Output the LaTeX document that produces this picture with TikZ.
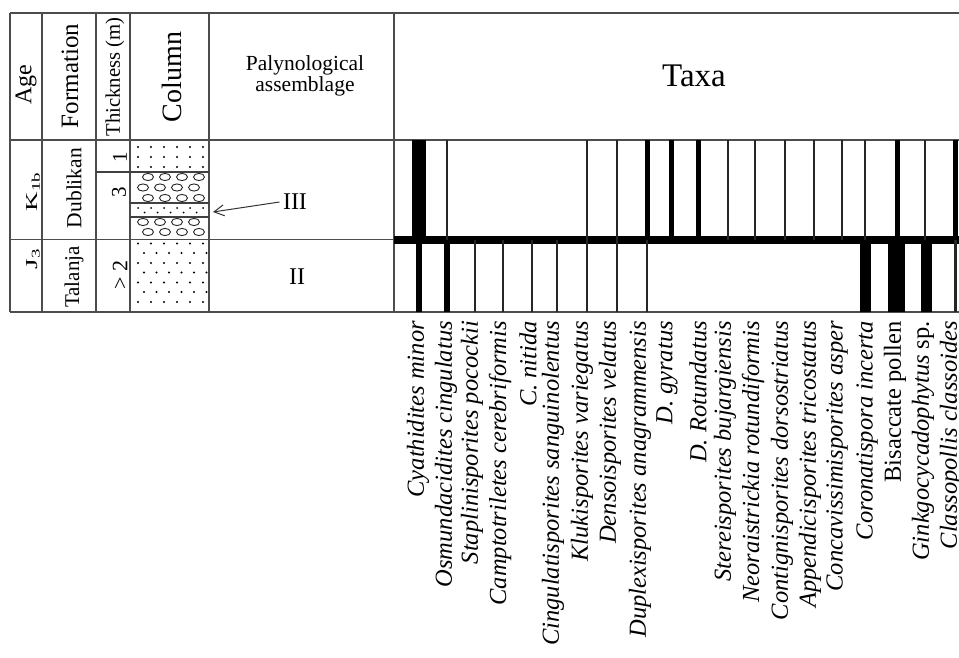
\documentclass[tikz,border=0pt]{standalone}
\usepackage{fontspec}
\setmainfont{Liberation Serif}
\usetikzlibrary{arrows.meta}
\newcommand{\fsz}[1]{\fontsize{#1}{#1}\selectfont}

\tikzset{
  frame line/.style={draw=black!70, line width=1.4pt},
  litho line/.style={draw=black!75, line width=1.1pt},
  side text/.style={rotate=90, inner sep=0pt},
  age text/.style={rotate=90, yscale=0.62, inner sep=0pt, font=\fsz{27}},
  taxon/.style={rotate=90, anchor=east, inner sep=0pt, font=\fsz{24.5}\itshape},
  pebble/.style={draw=black!85, line width=0.9pt},
}

\begin{document}
\begin{tikzpicture}[x=1pt, y=-1pt]
\useasboundingbox (0,0) rectangle (959,658);
% table frame
\draw[frame line] (10,13) -- (959,13);
\draw[frame line] (10,140) -- (959,140);
\draw[frame line] (10,239.5) -- (394,239.5);
\draw[frame line] (10,312) -- (959,312);
\foreach \x in {10,42,96,130,209,394} \draw[frame line] (\x,13) -- (\x,312);
\draw[litho line] (96,172) -- (209,172);
\draw[litho line] (130,203) -- (209,203);
\draw[litho line] (130,217) -- (209,217);

% lithology: sand and conglomerate
\foreach \y in {147,157,167} \foreach \x in {138,151,...,203} \fill (\x,\y) circle[radius=1.1pt];
\foreach \x in {138,151,...,203} \fill (\x,208) circle[radius=1pt];
\foreach \x in {144.5,157.5,...,200} \fill (\x,212.5) circle[radius=1pt];
\foreach \y in {243.5,263,282.5,302} \foreach \x in {138,151,...,203} \fill (\x,\y) circle[radius=1.1pt];
\foreach \y in {253,272.5,292} \foreach \x in {144,156.5,...,207} \fill (\x,\y) circle[radius=1.1pt];
\foreach \y/\xs in {177/148, 187.5/143, 198/148, 222/143, 232/148}
  \foreach \k in {0,...,3} \draw[pebble] (\xs+17*\k,\y) ellipse[x radius=5.5pt, y radius=3.6pt];

% headers
\node[side text, font=\fsz{24}] (age) at (26,85) {Age};
\node[side text, font=\fsz{25}] (formation) at (70,76) {Formation};
\node[side text, font=\fsz{20.7}] (thickness) at (115,77) {Thickness (m)};
\node[side text, font=\fsz{28}] (column) at (172,77) {Column};
\node[align=center, font=\fsz{21.5}] (paly) at (305,76) {Palynological\\assemblage};
\node[font=\fsz{33}] (taxa) at (694,76) {Taxa};

% age, formation, thickness
\node[age text] (kage) at (33,192) {K\textsubscript{1b}};
\node[age text] (jage) at (33,259) {J\textsubscript{3}};
\node[side text, font=\fsz{21.5}] (dublikan) at (74,188) {Dublikan};
\node[side text, font=\fsz{21}] (talanja) at (74,277) {Talanja};
\node[side text, font=\fsz{21}] (thone) at (120,157) {1};
\node[side text, font=\fsz{21}] (ththree) at (119,192) {3};
\node[side text, font=\fsz{22}] (thtwo) at (120,275) {> 2};

% assemblages
\node[font=\fsz{24}] (asmIII) at (295,202) {III};
\node[font=\fsz{24}] (asmII) at (297,277) {II};
\coordinate (bedpt) at (213,212);
\draw[black!80, line width=1pt, -{Straight Barb[length=10pt, width=11pt]}] (asmIII.west) -- (bedpt);

% occurrence bars
\fill (394,236) rectangle (959,244);
\foreach \x/\w in {419/14, 647/5, 671.5/5, 698.5/5, 897/5, 955.5/5}
  \fill (\x-\w/2,140) rectangle (\x+\w/2,240);
\foreach \x/\w in {447/2, 587/2.2, 617/2.5, 728/2, 755/2, 785/2, 814/2, 842/2, 865/2, 925/2.5}
  \fill[black!85] (\x-\w/2,140) rectangle (\x+\w/2,240);
\foreach \x/\w in {419/6, 447/6, 865.5/11, 896.5/17, 926.5/11}
  \fill (\x-\w/2,240) rectangle (\x+\w/2,312);
\foreach \x/\w in {475/2.5, 503/2.5, 532/2.5, 557/2.5, 587/2.5, 617/2.5, 647/2.5, 955.5/2.5}
  \fill[black!85] (\x-\w/2,240) rectangle (\x+\w/2,312);

% taxa names
\foreach \x/\t [count=\i] in {418/Cyathidites minor, 446/Osmundacidites cingulatus,
  472/Staplinisporites pocockii, 500/Camptotriletes cerebriformis, 528/C. nitida,
  553/Cingulatisporites sanguinolentus, 582/Klukisporites variegatus,
  610/Densoisporites velatus, 640/Duplexisporites anagrammensis, 667/D. gyratus,
  698/D. Rotundatus, 725/Stereisporites bujargiensis, 753/Neoraistrickia rotundiformis,
  782/Contignisporites dorsostriatus, 810/Appendicisporites tricostatus,
  837/Concavissimisporites asper, 867/Coronatispora incerta, 895/{\upshape Bisaccate pollen},
  923/Ginkgocycadophytus {\upshape sp.}, 951/Classopollis classoides}
  \node[taxon] (tax\i) at (\x,321) {\t};
\end{tikzpicture}
\end{document}
